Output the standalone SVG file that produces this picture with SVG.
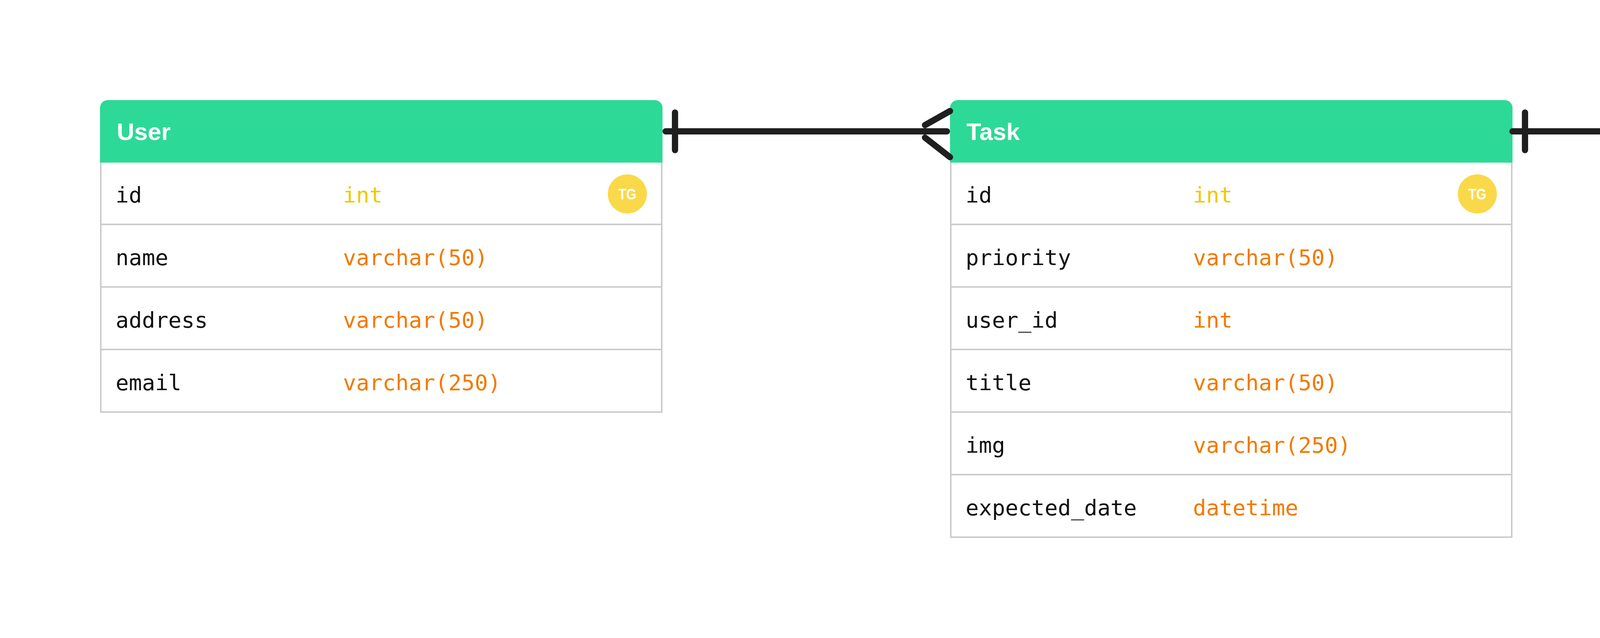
<svg xmlns="http://www.w3.org/2000/svg" width="6304" height="1632" viewBox="0 0 6304 1632">
<style>
.hdr{fill:#2DD996}
.body{fill:none;stroke:#CCCCCC;stroke-width:4}
.sep{stroke:#CCCCCC;stroke-width:4}
.title{font-family:"Liberation Sans",Arial,sans-serif;font-weight:bold;font-size:62px;fill:#FFFFFF}
.fn{font-family:"DejaVu Sans Mono","Liberation Mono",monospace;font-size:56px;fill:#111111}
.ty{font-family:"DejaVu Sans Mono","Liberation Mono",monospace;font-size:56px;fill:#F27A00}
.pk{fill:#EFC900}
.tgc{fill:#F9D949}
.tgt{font-family:"Liberation Sans",Arial,sans-serif;font-weight:bold;font-size:39px;fill:#FFFFFF;text-anchor:middle}
.conn{fill:none;stroke:#1F1F1F;stroke-width:16;stroke-linecap:round}
</style>
<rect width="6304" height="1632" fill="#FFFFFF"/>

<g id="user">
<rect x="256" y="416" width="1440" height="640" fill="#FFFFFF"/>
<path class="hdr" d="M256 416 V276 A20 20 0 0 1 276 256 H1676 A20 20 0 0 1 1696 276 V416 Z"/>
<path class="body" d="M258 416 V1054 H1694 V416"/>
<line class="sep" x1="256" y1="574" x2="1696" y2="574"/>
<line class="sep" x1="256" y1="734" x2="1696" y2="734"/>
<line class="sep" x1="256" y1="894" x2="1696" y2="894"/>
<text class="title" x="299" y="358">User</text>
<text class="fn" x="296" y="518">id</text><text class="ty pk" x="878" y="518">int</text>
<circle class="tgc" cx="1606" cy="496" r="50"/><text class="tgt" x="1606" y="510" textLength="46" lengthAdjust="spacingAndGlyphs">TG</text>
<text class="fn" x="296" y="678">name</text><text class="ty" x="878" y="678">varchar(50)</text>
<text class="fn" x="296" y="838">address</text><text class="ty" x="878" y="838">varchar(50)</text>
<text class="fn" x="296" y="998">email</text><text class="ty" x="878" y="998">varchar(250)</text>
</g>

<g id="task">
<rect x="2432" y="416" width="1440" height="960" fill="#FFFFFF"/>
<path class="hdr" d="M2432 416 V276 A20 20 0 0 1 2452 256 H3852 A20 20 0 0 1 3872 276 V416 Z"/>
<path class="body" d="M2434 416 V1374 H3870 V416"/>
<line class="sep" x1="2432" y1="574" x2="3872" y2="574"/>
<line class="sep" x1="2432" y1="734" x2="3872" y2="734"/>
<line class="sep" x1="2432" y1="894" x2="3872" y2="894"/>
<line class="sep" x1="2432" y1="1054" x2="3872" y2="1054"/>
<line class="sep" x1="2432" y1="1214" x2="3872" y2="1214"/>
<text class="title" x="2474" y="358">Task</text>
<text class="fn" x="2472" y="518">id</text><text class="ty pk" x="3054" y="518">int</text>
<circle class="tgc" cx="3782" cy="496" r="50"/><text class="tgt" x="3782" y="510" textLength="46" lengthAdjust="spacingAndGlyphs">TG</text>
<text class="fn" x="2472" y="678">priority</text><text class="ty" x="3054" y="678">varchar(50)</text>
<text class="fn" x="2472" y="838">user_id</text><text class="ty" x="3054" y="838">int</text>
<text class="fn" x="2472" y="998">title</text><text class="ty" x="3054" y="998">varchar(50)</text>
<text class="fn" x="2472" y="1158">img</text><text class="ty" x="3054" y="1158">varchar(250)</text>
<text class="fn" x="2472" y="1318">expected_date</text><text class="ty" x="3054" y="1318">datetime</text>
</g>

<g id="subtask">
<rect x="4608" y="416" width="1440" height="640" fill="#FFFFFF"/>
<path class="hdr" d="M4608 416 V276 A20 20 0 0 1 4628 256 H6028 A20 20 0 0 1 6048 276 V416 Z"/>
<path class="body" d="M4610 416 V1054 H6046 V416"/>
<line class="sep" x1="4608" y1="574" x2="6048" y2="574"/>
<line class="sep" x1="4608" y1="734" x2="6048" y2="734"/>
<line class="sep" x1="4608" y1="894" x2="6048" y2="894"/>
<text class="title" x="4650" y="358">Subtask</text>
<text class="fn" x="4648" y="518">id</text><text class="ty pk" x="5230" y="518">int</text>
<circle class="tgc" cx="5958" cy="496" r="50"/><text class="tgt" x="5958" y="510" textLength="46" lengthAdjust="spacingAndGlyphs">TG</text>
<text class="fn" x="4648" y="678">task_id</text><text class="ty" x="5230" y="678">int</text>
<text class="fn" x="4648" y="838">title</text><text class="ty" x="5230" y="838">varchar(50)</text>
<text class="fn" x="4648" y="998">status</text><text class="ty" x="5230" y="998">boolean</text>
</g>

<g id="connectors">
<g id="user-task">
<line class="conn" x1="1704" y1="336" x2="2424" y2="336"/>
<line class="conn" x1="1728" y1="288" x2="1728" y2="384"/>
<line class="conn" x1="2368" y1="320" x2="2432" y2="284"/>
<line class="conn" x1="2368" y1="352" x2="2432" y2="402"/>
</g>
<g id="task-subtask">
<line class="conn" x1="3872" y1="336" x2="4608" y2="336"/>
<line class="conn" x1="3904" y1="288" x2="3904" y2="384"/>
<line class="conn" x1="4576" y1="320" x2="4608" y2="292"/>
<line class="conn" x1="4576" y1="352" x2="4608" y2="387"/>
</g>
</g>
</svg>
